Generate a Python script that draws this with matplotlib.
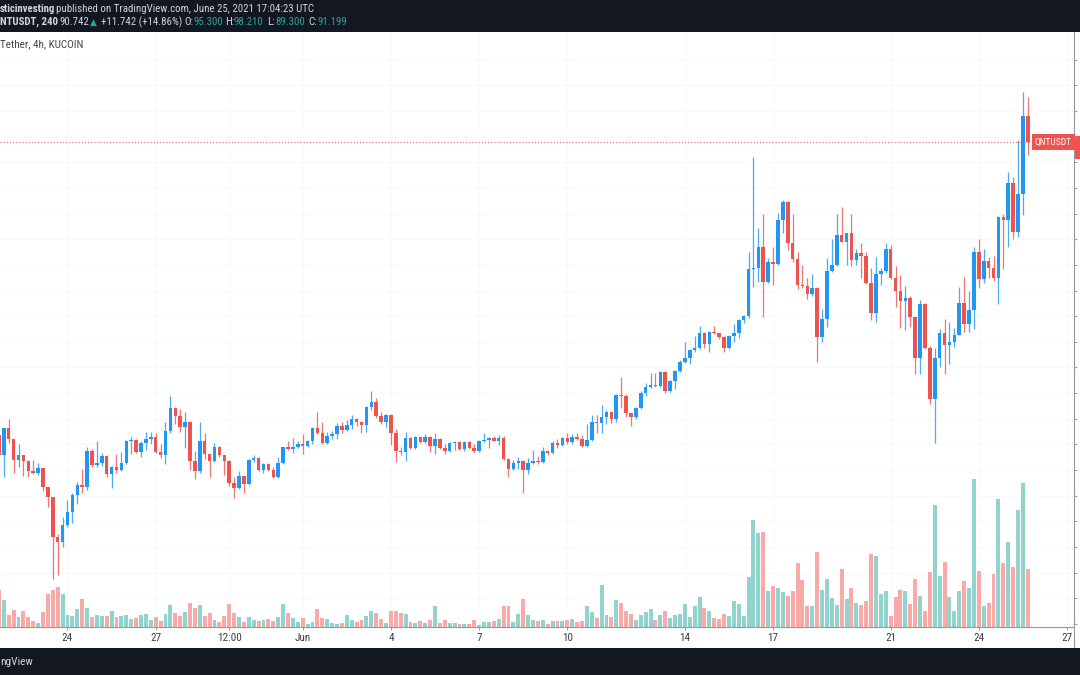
import numpy as np
import pandas as pd
import matplotlib
matplotlib.use("Agg")
import matplotlib.pyplot as plt
import matplotlib.dates as mdates
from matplotlib import font_manager
from matplotlib.patches import Rectangle
from matplotlib.lines import Line2D

# QNT/USDT 4h candles (KuCoin), first bar 21 May 16:00 UTC, last bar 25 Jun 16:00 UTC
start = '2021-05-21 16:00'
first_open = 45.46
closes = [
    42.34, 46.55, 44.84, 41.56, 42.34, 41.40, 39.84, 39.53, 40.31, 37.35, 35.79, 29.55, 28.77, 31.42,
    33.45, 36.10, 37.66, 37.35, 42.96, 40.78, 41.09, 42.18, 39.38, 40.47, 40.00, 41.09, 44.52, 44.68,
    42.81, 44.21, 44.84, 45.15, 42.81, 42.34, 46.08, 49.67, 48.42, 46.71, 47.49, 41.40, 39.84, 44.52,
    42.50, 41.40, 43.59, 42.34, 41.40, 37.97, 37.19, 39.06, 37.82, 41.56, 41.87, 40.00, 40.94, 40.00,
    38.91, 41.09, 43.59, 43.28, 43.59, 44.06, 43.74, 44.52, 46.55, 45.77, 44.21, 45.30, 45.62, 46.86,
    46.24, 47.02, 47.96, 47.49, 47.02, 49.83, 50.61, 48.42, 47.49, 48.58, 45.77, 42.96, 42.81, 44.99,
    43.43, 45.15, 44.37, 45.15, 43.74, 44.84, 43.43, 42.96, 44.21, 44.37, 43.28, 44.37, 43.43, 42.96,
    44.52, 44.68, 44.99, 44.52, 44.99, 41.72, 40.16, 41.09, 41.40, 40.00, 41.09, 41.40, 41.25, 42.96,
    42.65, 44.21, 43.90, 44.99, 44.37, 45.15, 44.84, 43.74, 44.68, 47.49, 47.33, 48.27, 49.05, 47.96,
    51.70, 51.54, 48.89, 48.27, 49.67, 52.01, 52.95, 53.26, 53.10, 55.29, 52.32, 53.88, 55.44, 56.85,
    57.47, 58.72, 59.03, 61.37, 59.66, 61.53, 61.37, 60.75, 59.03, 60.90, 61.37, 63.40, 64.02, 71.36,
    71.51, 74.79, 69.33, 72.45, 72.14, 79.00, 81.81, 75.41, 72.92, 68.86, 68.70, 67.46, 68.39, 60.75,
    63.56, 71.04, 71.98, 76.66, 75.57, 76.97, 72.76, 73.85, 73.38, 69.17, 64.49, 70.58, 71.04, 74.48,
    69.95, 67.92, 66.36, 66.83, 63.87, 57.47, 65.90, 59.03, 51.08, 57.47, 61.37, 59.50, 59.97, 61.06,
    66.05, 62.78, 64.96, 74.01, 69.80, 72.60, 71.51, 69.95, 79.47, 79.00, 84.77, 77.13, 83.06, 95.22,
    91.17,
]
highs = [
    45.93, 46.55, 47.96, 44.84, 44.06, 42.34, 41.56, 41.56, 41.09, 40.31, 37.35, 35.79, 30.02, 32.67,
    35.32, 36.41, 38.13, 40.16, 43.59, 43.28, 44.52, 42.65, 42.34, 40.62, 42.50, 42.81, 44.68, 45.15,
    44.84, 44.52, 45.93, 45.93, 45.77, 44.06, 47.49, 51.54, 49.83, 49.52, 49.05, 47.64, 42.96, 47.49,
    45.77, 42.65, 44.21, 43.74, 42.34, 41.56, 38.91, 39.84, 39.06, 41.72, 42.34, 42.03, 41.09, 41.09,
    40.47, 42.03, 43.59, 44.52, 44.99, 44.52, 45.62, 44.68, 46.71, 49.05, 47.49, 45.93, 46.08, 47.33,
    47.49, 47.80, 48.58, 48.11, 47.64, 49.98, 52.32, 51.23, 49.05, 48.74, 48.74, 46.40, 43.59, 45.93,
    45.15, 45.30, 45.30, 45.62, 45.30, 45.77, 44.99, 44.06, 44.37, 44.52, 44.52, 44.52, 44.52, 44.06,
    44.68, 45.77, 45.15, 45.30, 45.46, 45.30, 41.87, 41.56, 42.03, 41.56, 41.87, 43.12, 42.18, 43.59,
    43.12, 44.52, 44.84, 45.15, 45.77, 45.62, 45.77, 45.46, 47.18, 48.58, 48.58, 50.14, 49.36, 49.20,
    51.86, 54.51, 51.86, 48.89, 49.83, 52.32, 53.57, 55.13, 55.13, 55.44, 55.44, 54.04, 55.60, 57.16,
    59.97, 58.88, 60.90, 62.46, 61.53, 61.68, 62.46, 61.37, 60.90, 61.06, 62.78, 63.56, 64.18, 74.01,
    88.83, 77.75, 79.94, 73.07, 74.79, 80.09, 82.12, 81.96, 79.94, 74.01, 71.98, 69.95, 70.58, 68.55,
    65.12, 73.07, 76.04, 79.94, 81.03, 76.97, 79.94, 74.48, 75.41, 74.01, 71.51, 73.23, 71.51, 75.41,
    75.10, 71.82, 70.42, 68.70, 67.14, 63.87, 66.52, 66.05, 59.34, 59.03, 62.00, 63.56, 63.09, 62.15,
    68.55, 70.11, 67.92, 74.79, 76.04, 74.48, 73.23, 73.38, 79.62, 79.94, 86.49, 85.71, 91.48, 98.97,
    98.19,
]
lows = [
    42.18, 38.91, 44.21, 39.53, 40.47, 39.06, 38.91, 39.38, 39.22, 36.72, 34.23, 23.00, 23.62, 27.99,
    31.11, 31.73, 34.70, 36.41, 36.88, 40.47, 40.47, 40.62, 38.91, 37.19, 39.53, 39.84, 40.94, 42.50,
    42.65, 42.03, 43.12, 44.06, 42.65, 41.87, 40.94, 45.77, 47.18, 45.93, 43.43, 40.00, 38.60, 39.53,
    41.72, 38.91, 41.25, 42.03, 39.22, 37.50, 35.63, 37.04, 36.41, 37.66, 41.25, 39.84, 39.53, 39.84,
    38.75, 38.75, 40.94, 43.12, 42.65, 43.43, 42.50, 43.59, 44.06, 45.62, 44.06, 44.06, 44.84, 44.84,
    45.77, 46.08, 46.40, 46.86, 45.77, 45.93, 49.36, 48.11, 47.18, 46.71, 43.90, 41.25, 42.34, 41.40,
    43.28, 43.28, 44.21, 44.21, 42.81, 42.50, 43.28, 42.50, 42.81, 43.12, 43.12, 42.96, 43.28, 42.65,
    42.81, 44.37, 43.43, 44.52, 43.90, 41.56, 38.91, 40.00, 40.16, 36.41, 39.38, 40.94, 40.94, 41.09,
    42.34, 42.50, 43.43, 43.74, 44.06, 44.06, 44.68, 43.59, 43.59, 44.52, 45.77, 45.77, 47.18, 47.33,
    47.49, 49.67, 48.27, 46.86, 47.96, 49.52, 51.54, 52.79, 52.95, 52.95, 52.01, 52.17, 52.64, 55.29,
    56.69, 56.54, 58.41, 58.88, 59.03, 58.41, 61.22, 60.44, 58.41, 58.88, 59.97, 60.59, 62.93, 63.71,
    68.55, 69.33, 63.87, 69.17, 68.86, 71.98, 76.97, 74.32, 72.45, 68.24, 68.39, 66.68, 67.14, 56.85,
    59.97, 62.31, 70.89, 71.82, 75.57, 71.98, 71.82, 71.98, 69.95, 69.02, 63.40, 63.09, 68.86, 70.73,
    69.80, 65.43, 62.15, 61.84, 62.31, 54.98, 54.98, 58.88, 50.30, 44.21, 56.07, 54.98, 56.54, 59.19,
    61.06, 61.53, 61.53, 62.00, 68.39, 69.17, 69.95, 69.48, 65.90, 71.36, 74.79, 76.04, 76.35, 79.78,
    89.14,
]
# volume, read as relative bar heights
volumes = [
    37, 27, 12, 17, 10, 16, 10, 6, 4, 15, 33, 37, 40, 33,
    12, 11, 18, 28, 19, 10, 12, 11, 11, 16, 10, 11, 12, 8,
    9, 12, 13, 7, 10, 6, 13, 22, 14, 11, 15, 24, 19, 22,
    11, 14, 7, 5, 11, 23, 14, 10, 5, 10, 7, 6, 7, 8,
    6, 10, 23, 14, 9, 5, 9, 3, 5, 18, 9, 8, 4, 3,
    4, 12, 7, 5, 7, 11, 16, 14, 8, 4, 16, 16, 14, 13,
    5, 4, 6, 4, 7, 21, 4, 7, 4, 4, 3, 3, 3, 7,
    2, 5, 5, 6, 8, 21, 21, 5, 13, 28, 12, 7, 6, 7,
    3, 6, 6, 6, 7, 8, 5, 6, 21, 15, 9, 42, 12, 10,
    27, 24, 16, 13, 7, 12, 15, 18, 7, 12, 16, 9, 12, 13,
    23, 10, 21, 30, 19, 16, 9, 8, 13, 11, 26, 23, 11, 50,
    107, 94, 95, 36, 41, 39, 35, 31, 36, 64, 47, 21, 21, 75,
    37, 48, 29, 22, 58, 28, 39, 24, 22, 26, 73, 71, 33, 36,
    11, 30, 37, 36, 23, 48, 31, 16, 55, 122, 51, 65, 30, 16,
    36, 46, 39, 148, 56, 21, 24, 53, 128, 64, 85, 60, 117, 144,
    58,
]

tick_dates = ['2021-05-24', '2021-05-27', '2021-05-29 12:00', '2021-06-01', '2021-06-04',
              '2021-06-07', '2021-06-10', '2021-06-14', '2021-06-17', '2021-06-21',
              '2021-06-24', '2021-06-27']
tick_labels = ['24', '27', '12:00', 'Jun', '4', '7', '10', '14', '17', '21', '24', '27']
price_ticks = list(range(16, 108, 4))


def pick_font():
    for name in ['Liberation Sans Narrow', 'Roboto Condensed']:
        try:
            font_manager.findfont(font_manager.FontProperties(family=name), fallback_to_default=False)
            return [name, 'DejaVu Sans']
        except ValueError:
            pass
    return ['DejaVu Sans']


FONT = pick_font()
plt.rcParams['font.family'] = FONT

W, H = 1080, 675
fig = plt.figure(figsize=(W / 100, H / 100), dpi=100, facecolor='white')

pane_top, pane_bot, pane_right = 32, 627, 1073.5
rect = [0, 1 - pane_bot / H, pane_right / W, (pane_bot - pane_top) / H]
ax = fig.add_axes(rect)
ax2 = ax.twinx()
ax.set_zorder(2)
ax2.set_zorder(1)
ax.patch.set_visible(False)

opens = [first_open] + closes[:-1]
t = pd.date_range(start, periods=len(closes), freq='4h')
x = mdates.date2num(t.to_pydatetime())
o = np.array(opens)
c = np.array(closes)
h = np.maximum(np.array(highs), np.maximum(o, c))
l = np.minimum(np.array(lows), np.minimum(o, c))
v = np.array(volumes)
up = c >= o
candle_col = np.where(up, '#2196f3', '#ef5350')
vol_col = np.where(up, '#92d3cd', '#f8aaa8')
step = 4 / 24

# volume underlay, very faint grid behind it
ax2.bar(x, v, width=step * 0.8, color=vol_col, linewidth=0)
ax2.set_ylim(0, pane_bot - pane_top)
ax2.set_axis_off()
grid_col = '#f8f9fb'
for p in price_ticks:
    ax2.plot([0, 1], [p, p], transform=ax.get_yaxis_transform(), color=grid_col, lw=0.8, zorder=0)
for d in tick_dates:
    ax2.axvline(mdates.date2num(pd.Timestamp(d)), color=grid_col, lw=0.8, zorder=0)

# candles
ax.vlines(x, l, h, colors=candle_col, linewidth=0.9, alpha=0.8)
ax.bar(x, np.maximum(np.abs(c - o), 0.14), bottom=np.minimum(o, c), width=step * 0.72,
       color=candle_col, linewidth=0)

t0 = pd.Timestamp('2021-05-24')
ax.set_xlim(mdates.date2num(t0 - pd.Timedelta(days=2.296)), mdates.date2num(t0 + pd.Timedelta(days=34.22)))
ax.set_ylim(15.51, 108.33)

# last price line and label
ax.axhline(closes[-1], color='#ef5350', lw=0.9, ls=(0, (1, 1.5)), alpha=0.75)
ax.annotate('QNTUSDT', xy=(0.9985, closes[-1]), xycoords=('axes fraction', 'data'),
            ha='right', va='center', fontsize=6.8, color='white',
            bbox=dict(boxstyle='square,pad=0.32', fc='#ef5350', ec='none'))

axis_col = '#9598a1'
for s in ['top', 'left']:
    ax.spines[s].set_visible(False)
for s in ['right', 'bottom']:
    ax.spines[s].set_color(axis_col)
    ax.spines[s].set_linewidth(0.8)
ax.yaxis.tick_right()
ax.set_yticks(price_ticks)
ax.set_yticklabels([])
ax.tick_params(axis='y', right=True, length=2.2, width=0.7, color=axis_col)
ax.set_xticks([mdates.date2num(pd.Timestamp(d)) for d in tick_dates])
ax.set_xticklabels(tick_labels)
ax.tick_params(axis='x', length=2.2, width=0.7, color=axis_col, pad=2.2,
               labelsize=8, labelcolor='#3b3e46')

# frame pieces outside the pane
fig.add_artist(Line2D([pane_right / W, pane_right / W], [1 - 648 / H, 1 - pane_bot / H],
                      color=axis_col, lw=0.8, transform=fig.transFigure))
fig.add_artist(Rectangle((1075 / W, 1 - 159 / H), 5 / W, 23 / H, color='#ef5350',
                         transform=fig.transFigure, lw=0))
fig.add_artist(Rectangle((0, 1 - pane_top / H), 1, pane_top / H, color='#131722',
                         transform=fig.transFigure, lw=0, zorder=5))
fig.add_artist(Rectangle((0, 0), 1, 27 / H, color='#131722',
                         transform=fig.transFigure, lw=0, zorder=5))


def put(px, py, s, color='#d1d4dc', weight='normal', size=7.8):
    fig.text(px / W, 1 - py / H, s, color=color, fontsize=size, fontweight=weight,
             ha='left', va='center', zorder=6)


teal = '#26a69a'
put(0, 9, 'sticinvesting', weight='bold')
put(56, 9, 'published on TradingView.com, June 25, 2021 17:04:23 UTC')
put(0, 22, 'NTUSDT, 240', weight='bold')
put(60, 22, '90.742')
put(90, 22, '▲', color=teal, size=6.5)
put(101, 22, '+11.742 (+14.86%)')
put(184, 22, 'O:')
put(193, 22, '95.300', color=teal)
put(225, 22, 'H:')
put(234, 22, '98.210', color=teal)
put(267, 22, 'L:')
put(275, 22, '89.300', color=teal)
put(308, 22, 'C:')
put(317, 22, '91.199', color=teal)
put(0, 44, 'Tether, 4h, KUCOIN', color='#434651', size=8)
put(0, 662, 'ngView', size=8.2)

fig.savefig('out.png', dpi=100, facecolor='white')
